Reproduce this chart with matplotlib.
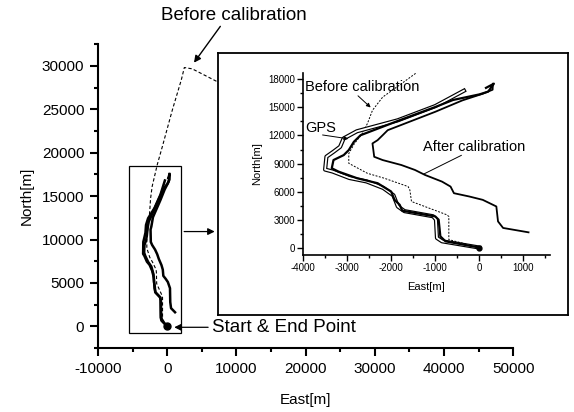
import matplotlib
matplotlib.use("Agg")
import matplotlib.pyplot as plt
from matplotlib.patches import Rectangle
from matplotlib.ticker import MultipleLocator

plt.rcParams['font.family'] = ['Liberation Sans', 'DejaVu Sans']
plt.rcParams['axes.unicode_minus'] = False

# trajectories [m]
gps_e = [0, -847, -962, -985, -1050, -1700, -1850, -1950, -2180, -2560, -2950, -3330,
         -3500, -3470, -3310, -3160, -3080, -2780, -1850, -1000, -350]
gps_n = [0, 670, 1030, 3000, 3350, 3900, 4400, 5600, 6380, 7080, 7450, 8140,
         8350, 9730, 10260, 10790, 11680, 12450, 13630, 15150, 16800]

mid_e = [0, -770, -885, -924, -1000, -1750, -1808, -1925, -2002, -2309, -2771, -3195,
         -3349, -3310, -3078, -2963, -2848, -2695, -1800, -1000, -600, 0, 200, 330, 150]
mid_n = [0, 670, 1200, 2980, 3330, 3950, 4580, 5110, 6000, 6890, 7420, 8130,
         8490, 9370, 9900, 10440, 11320, 12030, 13650, 15050, 15800, 16400, 16700, 17550, 17100]

before_e = [0, -693, -693, -739, -1540, -1578, -1617, -2155, -2540, -2963, -2963, -2833,
            -2656, -2540, -2425, -2194, -1771, -1462, -720, 720, 2030, 2460, 3600, 7250, 12000]
before_n = [0, 850, 3330, 3510, 4930, 6180, 6530, 7420, 7950, 9020, 10070, 11150,
            12210, 13280, 14700, 16110, 17540, 18600, 20700, 24900, 28400, 29800, 29650, 28160, 26300]

after_e = [1115, 538, 423, 385, 307, 76, -231, -577, -654, -847, -1231, -1462, -1771,
           -2194, -2386, -2425, -2309, -2194, -2079, -1000, -385, 76, 300, 307]
after_n = [1630, 2100, 2800, 4400, 4580, 5110, 5470, 5820, 6530, 7060, 7770, 8310, 8840,
           9370, 9720, 11150, 11500, 12030, 12570, 14540, 15760, 16470, 16900, 17540]

fig = plt.figure(figsize=(5.74, 4.12), dpi=100)

# main plot
ax = fig.add_axes([0.171, 0.155, 0.723, 0.738])
ax.plot(before_e, before_n, color="black", lw=0.8, dashes=(3, 2))
ax.plot(gps_e, gps_n, color="black", lw=1.8)
ax.plot(mid_e, mid_n, color="black", lw=1.8)
ax.plot(after_e, after_n, color="black", lw=1.8)
ax.plot([0], [0], "o", color="black", ms=5)
ax.add_patch(Rectangle((-5500, -700), 7530, 19200, fill=False, lw=0.9, color="black"))

ax.set_xlim(-10000, 50000)
ax.set_ylim(-2500, 32500)
ax.xaxis.set_major_locator(MultipleLocator(10000))
ax.xaxis.set_minor_locator(MultipleLocator(5000))
ax.yaxis.set_major_locator(MultipleLocator(5000))
ax.yaxis.set_minor_locator(MultipleLocator(2500))
for s in ["top", "right"]:
    ax.spines[s].set_visible(False)
for s in ["left", "bottom"]:
    ax.spines[s].set_linewidth(1.5)
ax.tick_params(which="major", length=6, width=1.5, labelsize=11, pad=4)
ax.tick_params(which="minor", length=3, width=1.5)
ax.set_xlabel("East[m]", fontsize=11, labelpad=12)
ax.set_ylabel("North[m]", fontsize=11, labelpad=6)

# arrows and notes on the main plot
ax.annotate("", xy=(7250, 10920), xytext=(2030, 10920),
            arrowprops=dict(arrowstyle="-|>", color="black", lw=0.9, mutation_scale=10),
            annotation_clip=False)
ax.annotate("", xy=(600, -100), xytext=(6300, -100),
            arrowprops=dict(arrowstyle="-|>", color="black", lw=0.9, mutation_scale=10),
            annotation_clip=False)
ax.text(6500, -100, "Start & End Point", fontsize=13.5, va="center", ha="left")
ax.annotate("", xy=(3620, 30100), xytext=(7900, 34800),
            arrowprops=dict(arrowstyle="-|>", color="black", lw=1.0, mutation_scale=10),
            annotation_clip=False)
fig.text(234 / 574, 1 - 15 / 412, "Before calibration", fontsize=13.5, ha="center", va="center")

# inset frame
frame = fig.add_axes([0.380, 0.235, 0.610, 0.636])
frame.set_xticks([])
frame.set_yticks([])
frame.set_facecolor("white")
for s in frame.spines.values():
    s.set_linewidth(1.3)

# inset plot
ins = fig.add_axes([0.528, 0.381, 0.430, 0.442])
ins.patch.set_alpha(0)
ins.plot(before_e, before_n, color="black", lw=0.7, dashes=(2, 1.5))
ins.plot(gps_e, gps_n, color="black", lw=3.0)
ins.plot(gps_e, gps_n, color="white", lw=1.3)
ins.plot(mid_e, mid_n, color="black", lw=1.6)
ins.plot(after_e, after_n, color="black", lw=1.3)
ins.plot([0], [0], "o", color="black", ms=3.5)

ins.set_xlim(-4000, 1600)
ins.set_ylim(-800, 18700)
ins.xaxis.set_major_locator(MultipleLocator(1000))
ins.xaxis.set_minor_locator(MultipleLocator(500))
ins.yaxis.set_major_locator(MultipleLocator(3000))
ins.yaxis.set_minor_locator(MultipleLocator(1500))
for s in ["top", "right"]:
    ins.spines[s].set_visible(False)
for s in ["left", "bottom"]:
    ins.spines[s].set_linewidth(1.2)
ins.tick_params(which="major", length=4, width=1.0, labelsize=7, pad=2)
ins.tick_params(which="minor", length=2, width=1.0)
ins.set_xlabel("East[m]", fontsize=8, labelpad=6)
ins.set_ylabel("North[m]", fontsize=8, labelpad=4)

ins.text(-3950, 17200, "Before calibration", fontsize=10.5, ha="left", va="center")
ins.annotate("", xy=(-2420, 14800), xytext=(-2800, 16450),
             arrowprops=dict(arrowstyle="-|>", color="black", lw=0.7, mutation_scale=6))
ins.text(-3950, 12800, "GPS", fontsize=10.5, ha="left", va="center")
ins.annotate("", xy=(-2910, 11600), xytext=(-3620, 12100),
             arrowprops=dict(arrowstyle="-|>", color="black", lw=0.7, mutation_scale=6))
ins.text(-1270, 10800, "After calibration", fontsize=10.5, ha="left", va="center")
ins.plot([-410, -1250], [9870, 7900], color="black", lw=0.7)

fig.savefig("out.png", dpi=100)
